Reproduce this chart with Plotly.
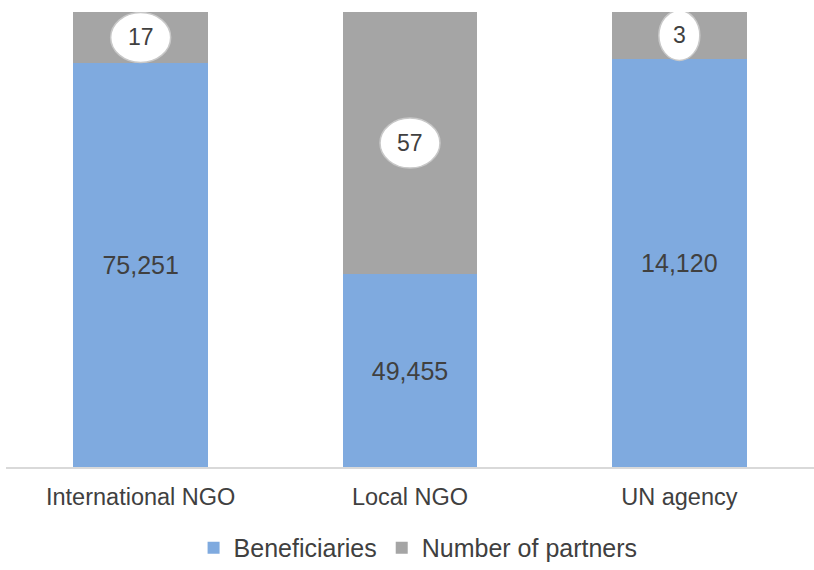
import plotly.graph_objects as go

categories = ["International NGO", "Local NGO", "UN agency"]
beneficiaries = [75251, 49455, 14120]
partners = [17, 57, 3]
# share of each bar (percent)
beneficiary_share = [88.8, 42.4, 89.7]
partner_share = [round(100 - s, 1) for s in beneficiary_share]

BLUE = "#7FAADF"
GREY = "#A5A5A5"
TEXT = "#404040"
FONT = "Liberation Sans"

fig = go.Figure()
fig.add_trace(go.Bar(
    name="Beneficiaries", x=categories, y=beneficiary_share,
    marker=dict(color=BLUE, line=dict(width=0)),
    text=[f"{v:,}" for v in beneficiaries], textposition="inside",
    insidetextanchor="middle", textangle=0,
    textfont=dict(size=25, color=TEXT, family=FONT),
    hoverinfo="skip",
))
fig.add_trace(go.Bar(
    name="Number of partners", x=categories, y=partner_share,
    marker=dict(color=GREY, line=dict(width=0)),
    hoverinfo="skip",
))

for i, (b, p, n) in enumerate(zip(beneficiary_share, partner_share, partners)):
    yc = b + p / 2
    w = 22 + 19 * len(str(n))
    fig.add_shape(type="circle", xref="x", yref="y", xsizemode="pixel", ysizemode="pixel",
                  xanchor=i, yanchor=yc, x0=-w / 2, x1=w / 2, y0=-25, y1=25,
                  fillcolor="white", line=dict(color="#C8C8C8", width=1.5), layer="above")
    fig.add_annotation(x=i, y=yc, xref="x", yref="y", text=str(n), showarrow=False,
                       font=dict(size=23, color=TEXT, family=FONT))

fig.update_layout(
    barmode="stack", bargap=0.5,
    width=814, height=570,
    margin=dict(l=6, r=0, t=12, b=103, autoexpand=False),
    paper_bgcolor="white", plot_bgcolor="white",
    showlegend=True,
    legend=dict(orientation="h", x=0.51, xanchor="center", y=-0.178, yanchor="middle",
                font=dict(size=25, color=TEXT, family=FONT), itemwidth=30,
                traceorder="normal"),
    font=dict(family=FONT, color=TEXT),
)
fig.update_xaxes(showline=True, linecolor="#D9D9D9", linewidth=1.5, ticks="",
                 automargin=False, ticklabelstandoff=8,
                 tickfont=dict(size=23.5, color=TEXT, family=FONT))
fig.update_yaxes(range=[0, 100], visible=False, showgrid=False)

fig.write_html("out.html")
